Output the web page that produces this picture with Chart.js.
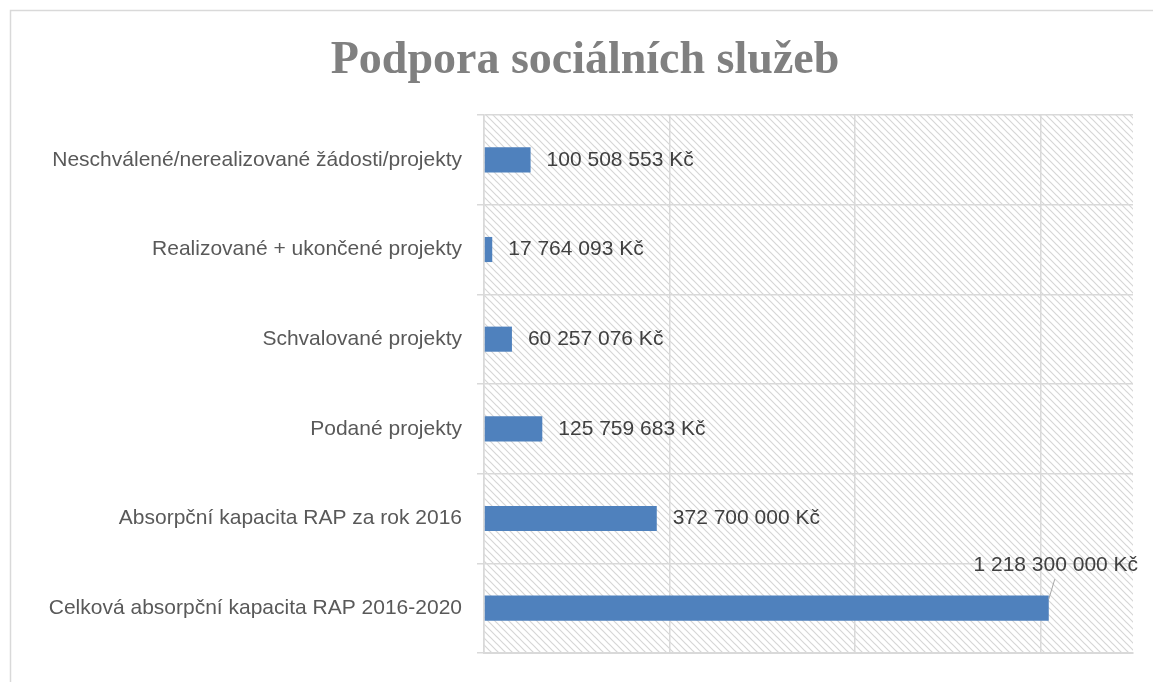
<!DOCTYPE html>
<html>
<head>
<meta charset="utf-8">
<script src="https://cdn.jsdelivr.net/npm/chart.js@4"></script>
<style>
  html, body { margin: 0; padding: 0; background: #fff; }
  #wrap { width: 1153px; height: 682px; position: relative; }
</style>
</head>
<body>
<div id="wrap"><canvas id="chart" width="1153" height="682"></canvas></div>
<script>
const categories = [
  "Neschválené/nerealizované žádosti/projekty",
  "Realizované + ukončené projekty",
  "Schvalované projekty",
  "Podané projekty",
  "Absorpční kapacita RAP za rok 2016",
  "Celková absorpční kapacita RAP 2016-2020"
];
const values = [100508553, 17764093, 60257076, 125759683, 372700000, 1218300000];
const gridTicks = [0, 400000000, 800000000, 1200000000];
const axisMax = 1400000000;

const labelFont = "21px 'Liberation Sans', Arial, sans-serif";

function formatKc(v) {
  return String(v).replace(/\B(?=(\d{3})+(?!\d))/g, " ") + " Kč";
}

// diagonal hatch for the plot area
function makeHatch(ctx) {
  const c = document.createElement("canvas");
  c.width = 7; c.height = 7;
  const p = c.getContext("2d");
  p.strokeStyle = "#d6d6d6";
  p.lineWidth = 1.2;
  p.beginPath();
  p.moveTo(0, 0); p.lineTo(7, 7);
  p.moveTo(-3.5, 3.5); p.lineTo(3.5, 10.5);
  p.moveTo(3.5, -3.5); p.lineTo(10.5, 3.5);
  p.stroke();
  return ctx.createPattern(c, "repeat");
}

const frame = {
  id: "frame",
  beforeDraw(chart) {
    const { ctx, chartArea: a } = chart;
    ctx.save();
    ctx.strokeStyle = "#d9d9d9";
    ctx.lineWidth = 1.5;
    ctx.strokeRect(10.5, 10.5, 1200, 1200);
    ctx.fillStyle = makeHatch(ctx);
    ctx.fillRect(a.left, a.top, a.right - a.left, a.bottom - a.top);
    // title
    ctx.fillStyle = "#808080";
    ctx.font = "bold 46px 'Liberation Serif', 'DejaVu Serif', serif";
    ctx.textAlign = "center";
    ctx.textBaseline = "alphabetic";
    ctx.fillText("Podpora sociálních služeb", 585, 73);
    ctx.restore();
  }
};

const barLabels = {
  id: "barLabels",
  afterDatasetsDraw(chart) {
    const { ctx } = chart;
    const meta = chart.getDatasetMeta(0);
    ctx.save();
    ctx.font = labelFont;
    ctx.fillStyle = "#404040";
    ctx.textBaseline = "middle";
    meta.data.forEach((bar, i) => {
      const txt = formatKc(values[i]);
      if (i === values.length - 1) {
        ctx.textAlign = "center";
        ctx.fillText(txt, bar.x + 7, bar.y - 43);
        ctx.strokeStyle = "#a6a6a6";
        ctx.lineWidth = 1;
        ctx.beginPath();
        ctx.moveTo(bar.x, bar.y - 9);
        ctx.lineTo(bar.x + 6, bar.y - 29);
        ctx.stroke();
      } else {
        ctx.textAlign = "left";
        ctx.fillText(txt, bar.x + 16, bar.y);
      }
    });
    ctx.restore();
  }
};

new Chart(document.getElementById("chart").getContext("2d"), {
  type: "bar",
  data: {
    labels: categories,
    datasets: [{
      data: values,
      backgroundColor: "#4f81bd",
      barPercentage: 0.28,
      categoryPercentage: 1
    }]
  },
  options: {
    indexAxis: "y",
    responsive: false,
    animation: false,
    layout: { padding: { left: 0, right: 20, top: 115, bottom: 29 } },
    plugins: { legend: { display: false }, tooltip: { enabled: false } },
    scales: {
      x: {
        min: 0,
        max: axisMax,
        ticks: { display: false },
        afterBuildTicks: (s) => { s.ticks = gridTicks.map(v => ({ value: v })); },
        grid: { color: "#d9d9d9", lineWidth: 1.5, drawTicks: false },
        border: { display: true, color: "#d9d9d9", width: 2 },
        afterFit: (s) => { s.height = 0; }
      },
      y: {
        ticks: { color: "#595959", font: { family: "'Liberation Sans', Arial, sans-serif", size: 21 }, padding: 15 },
        grid: { color: "#d9d9d9", lineWidth: 1.5, offset: true, tickLength: 7 },
        border: { display: true, color: "#d9d9d9", width: 1.5 },
        afterFit: (s) => { s.width = 484; }
      }
    }
  },
  plugins: [frame, barLabels]
});
</script>
</body>
</html>
